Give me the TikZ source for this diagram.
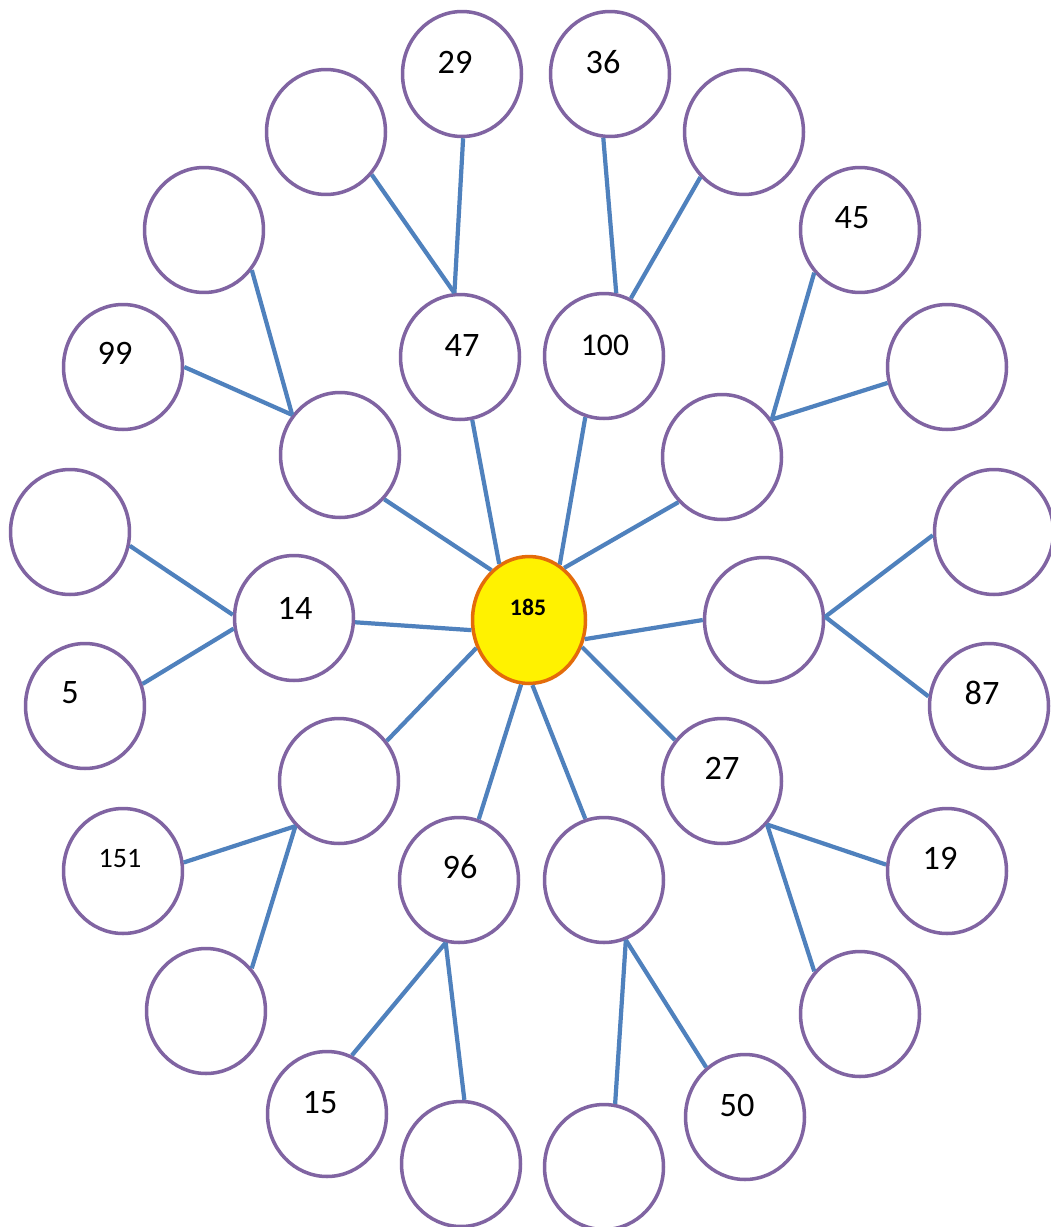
\documentclass[tikz,border=0pt]{standalone}
\usepackage{fontspec}
\setmainfont{Carlito}
\usetikzlibrary{shapes.geometric}
\definecolor{ringline}{HTML}{8064A2}
\definecolor{spoke}{HTML}{4F81BD}
\definecolor{hubedge}{HTML}{E46C0A}

\begin{document}
\begin{tikzpicture}[
    x=0.02cm, y=-0.02cm,
    bub/.style={ellipse, draw=ringline, line width=2pt, fill=white, minimum width=2.38cm, minimum height=2.5cm, inner sep=0pt},
    hub/.style={ellipse, draw=hubedge, line width=2pt, fill=yellow, minimum width=2.26cm, minimum height=2.54cm, inner sep=0pt},
    num/.style={font=\fontsize{19.5}{20}\selectfont, inner sep=0pt},
    link/.style={line width=2.4pt, color=spoke}
]
\useasboundingbox[fill=white] (0,0) rectangle (1051,1227);

\node[hub] (c) at (529,620) {};
\node[num, font=\fontsize{13.5}{14}\selectfont\bfseries] (t185) at (528,607) {185};

\node[bub] (i1) at (340,455) {};
\node[bub] (n47) at (460,357) {};
\node[bub] (n100) at (604,356) {};
\node[bub] (i4) at (722,457) {};
\node[bub] (i5) at (764,620) {};
\node[bub] (n27) at (722,781) {};
\node[bub] (i7) at (604,880) {};
\node[bub] (n96) at (459,880) {};
\node[bub] (i9) at (339,781) {};
\node[bub] (n14) at (294,618) {};

\node[bub] (n29) at (462,74) {};
\node[bub] (n36) at (610,74) {};
\node[bub] (o1) at (326,132) {};
\node[bub] (o2) at (744,132) {};
\node[bub] (n45) at (860,230) {};
\node[bub] (o3) at (947,367) {};
\node[bub] (o4) at (204,230) {};
\node[bub] (n99) at (123,367) {};
\node[bub] (o5) at (70,532) {};
\node[bub] (n5) at (85,706) {};
\node[bub] (o6) at (994,532) {};
\node[bub] (n87) at (989,706) {};
\node[bub] (n151) at (123,871) {};
\node[bub] (o7) at (206,1011) {};
\node[bub] (n15) at (327,1114) {};
\node[bub] (o8) at (461,1164) {};
\node[bub] (o9) at (604,1167) {};
\node[bub] (n50) at (745,1117) {};
\node[bub] (n19) at (947,871) {};
\node[bub] (o10) at (860,1014) {};

\node[num] (t47) at (462,345) {47};
\node[num, font=\fontsize{18}{19}\selectfont] (t100) at (605,345) {100};
\node[num] (t27) at (722,768) {27};
\node[num] (t96) at (460,867) {96};
\node[num] (t14) at (295,608) {14};
\node[num] (t29) at (455,62) {29};
\node[num] (t36) at (603,62) {36};
\node[num] (t45) at (852,218) {45};
\node[num] (t99) at (115,353) {99};
\node[num] (t5) at (70,693) {5};
\node[num] (t87) at (982,693) {87};
\node[num, font=\fontsize{16}{17}\selectfont] (t151) at (120,859) {151};
\node[num] (t15) at (320,1103) {15};
\node[num] (t50) at (737,1105) {50};
\node[num] (t19) at (940,858) {19};

\draw[link] (c.118) -- (n47.-79);
\draw[link] (c.61) -- (n100.-107);
\draw[link] (c.127) -- (i1.-45);
\draw[link] (c.56) -- (i4.-134);
\draw[link] (c.190) -- (n14.-4);
\draw[link] (c.-19) -- (i5.180);
\draw[link] (c.208) -- (i9.40);
\draw[link] (c.-27) -- (n27.139);
\draw[link] (c.-97) -- (n96.72);
\draw[link] (c.-87) -- (i7.107);

\draw[link] (i1.140) -- (o4.-40);
\draw[link] (i1.140) -- (n99.0);
\draw[link] (n47.95) -- (n29.-89);
\draw[link] (n47.95) -- (o1.-43);
\draw[link] (n100.79) -- (n36.-96);
\draw[link] (n100.65) -- (o2.-134);
\draw[link] (i4.37) -- (n45.-137);
\draw[link] (i4.37) -- (o3.-165);
\draw[link] (i5.3) -- (o6.-177);
\draw[link] (i5.3) -- (n87.171);
\draw[link] (n27.-44) -- (n19.174);
\draw[link] (n27.-44) -- (o10.137);
\draw[link] (i7.-70) -- (n50.128);
\draw[link] (i7.-70) -- (o9.80);
\draw[link] (n96.-102) -- (n15.67);
\draw[link] (n96.-102) -- (o8.87);
\draw[link] (i9.226) -- (n151.8);
\draw[link] (i9.226) -- (o7.43);
\draw[link] (n14.177) -- (o5.-13);
\draw[link] (n14.190) -- (n5.21);
\end{tikzpicture}
\end{document}
